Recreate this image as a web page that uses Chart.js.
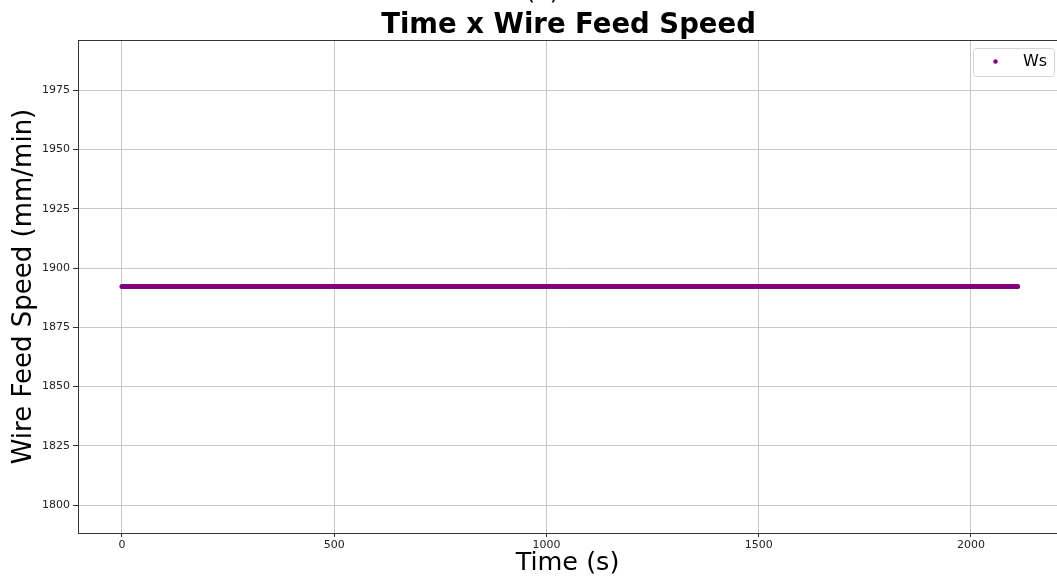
<!DOCTYPE html>
<html>
<head>
<meta charset="utf-8">
<script src="https://cdn.jsdelivr.net/npm/chart.js@4"></script>
<style>
  html, body { margin: 0; padding: 0; background: #fff; }
  #wrap { width: 1057px; height: 579px; }
</style>
</head>
<body>
<div id="wrap"><canvas id="wsChart"></canvas></div>
<script>
// time samples (s) and wire feed speed readings (mm/min)
var timeS = [0, 100, 200, 300, 400, 500, 600, 700, 800, 900, 1000, 1100,
             1200, 1300, 1400, 1500, 1600, 1700, 1800, 1900, 2000, 2100, 2110];
var wireSpeed = [1892.2, 1892.2, 1892.2, 1892.2, 1892.2, 1892.2, 1892.2, 1892.2,
                 1892.2, 1892.2, 1892.2, 1892.2, 1892.2, 1892.2, 1892.2, 1892.2,
                 1892.2, 1892.2, 1892.2, 1892.2, 1892.2, 1892.2, 1892.2];
var seriesName = "Ws";
var xTicks = [0, 500, 1000, 1500, 2000];
var yTicks = [1800, 1825, 1850, 1875, 1900, 1925, 1950, 1975];

function makePoints(xs, ys) {
  let arr = [];
  for (let i in xs) {
    arr.push({ x: xs[i], y: ys[i] });
  }
  return arr;
}

var font = "'DejaVu Sans', sans-serif";

// titles, frame and legend box drawn on top of the chart
var decor = {
  id: 'decor',
  afterDraw: function (chart) {
    var c = chart.ctx;
    var a = chart.chartArea;
    c.save();
    c.strokeStyle = '#333';
    c.lineWidth = 1;
    c.strokeRect(a.left + 0.5, a.top + 0.5, a.right - a.left, a.bottom - a.top);

    var mid = (a.left + a.right) / 2;
    c.fillStyle = '#000';
    c.textAlign = 'center';
    c.textBaseline = 'alphabetic';
    c.font = "24px " + font;
    c.fillText("(a)", mid - 25, -1);
    c.font = "bold 27.5px " + font;
    c.fillText("Time x Wire Feed Speed", mid + 1, 33);

    // legend
    c.beginPath();
    c.roundRect(973.5, 48.5, 81, 28, 3);
    c.fillStyle = 'rgba(255,255,255,0.8)';
    c.fill();
    c.strokeStyle = '#d5d5d5';
    c.stroke();
    c.beginPath();
    c.arc(995.5, 61.5, 2.2, 0, Math.PI * 2);
    c.fillStyle = 'purple';
    c.fill();
    c.fillStyle = '#000';
    c.textAlign = 'left';
    c.textBaseline = 'middle';
    c.font = "16px " + font;
    c.fillText(seriesName, 1023, 62);
    c.restore();
  }
};

var plainLabel = function (v) { return String(v); };

var canvas = document.getElementById("wsChart");

var chart = new Chart(canvas, {
  type: 'scatter',
  data: {
    datasets: [{
      label: seriesName,
      data: makePoints(timeS, wireSpeed),
      showLine: true,
      borderColor: 'purple',
      backgroundColor: 'purple',
      borderWidth: 5,
      borderCapStyle: 'round',
      pointRadius: 0
    }]
  },
  options: {
    responsive: true,
    maintainAspectRatio: false,
    animation: false,
    layout: { padding: { top: 40, left: 0, right: 0, bottom: 0 } },
    plugins: {
      legend: { display: false },
      title: { display: false },
      tooltip: { enabled: false }
    },
    scales: {
      x: {
        type: 'linear',
        min: -103.6,
        max: 2202.6,
        afterFit: function (s) { s.height = 46; },
        afterBuildTicks: function (s) { s.ticks = xTicks.map(function (v) { return { value: v }; }); },
        border: { display: false },
        grid: { color: '#c8c8c8', lineWidth: 1, tickColor: '#333', tickLength: 4 },
        ticks: { color: '#222', font: { family: font, size: 11 }, padding: 2, maxRotation: 0, callback: plainLabel },
        title: { display: true, text: 'Time (s)', color: '#000', font: { family: font, size: 25.5 }, padding: 0 }
      },
      y: {
        type: 'linear',
        min: 1788.2,
        max: 1996.2,
        afterFit: function (s) { s.width = 78; },
        afterBuildTicks: function (s) { s.ticks = yTicks.map(function (v) { return { value: v }; }); },
        border: { display: false },
        grid: { color: '#c8c8c8', lineWidth: 1, tickColor: '#333', tickLength: 5 },
        ticks: { color: '#222', font: { family: font, size: 11 }, padding: 3, callback: plainLabel },
        title: { display: true, text: 'Wire Feed Speed (mm/min)', color: '#000', font: { family: font, size: 26 }, padding: { top: 9, bottom: 0 } }
      }
    }
  },
  plugins: [decor]
});
</script>
</body>
</html>
